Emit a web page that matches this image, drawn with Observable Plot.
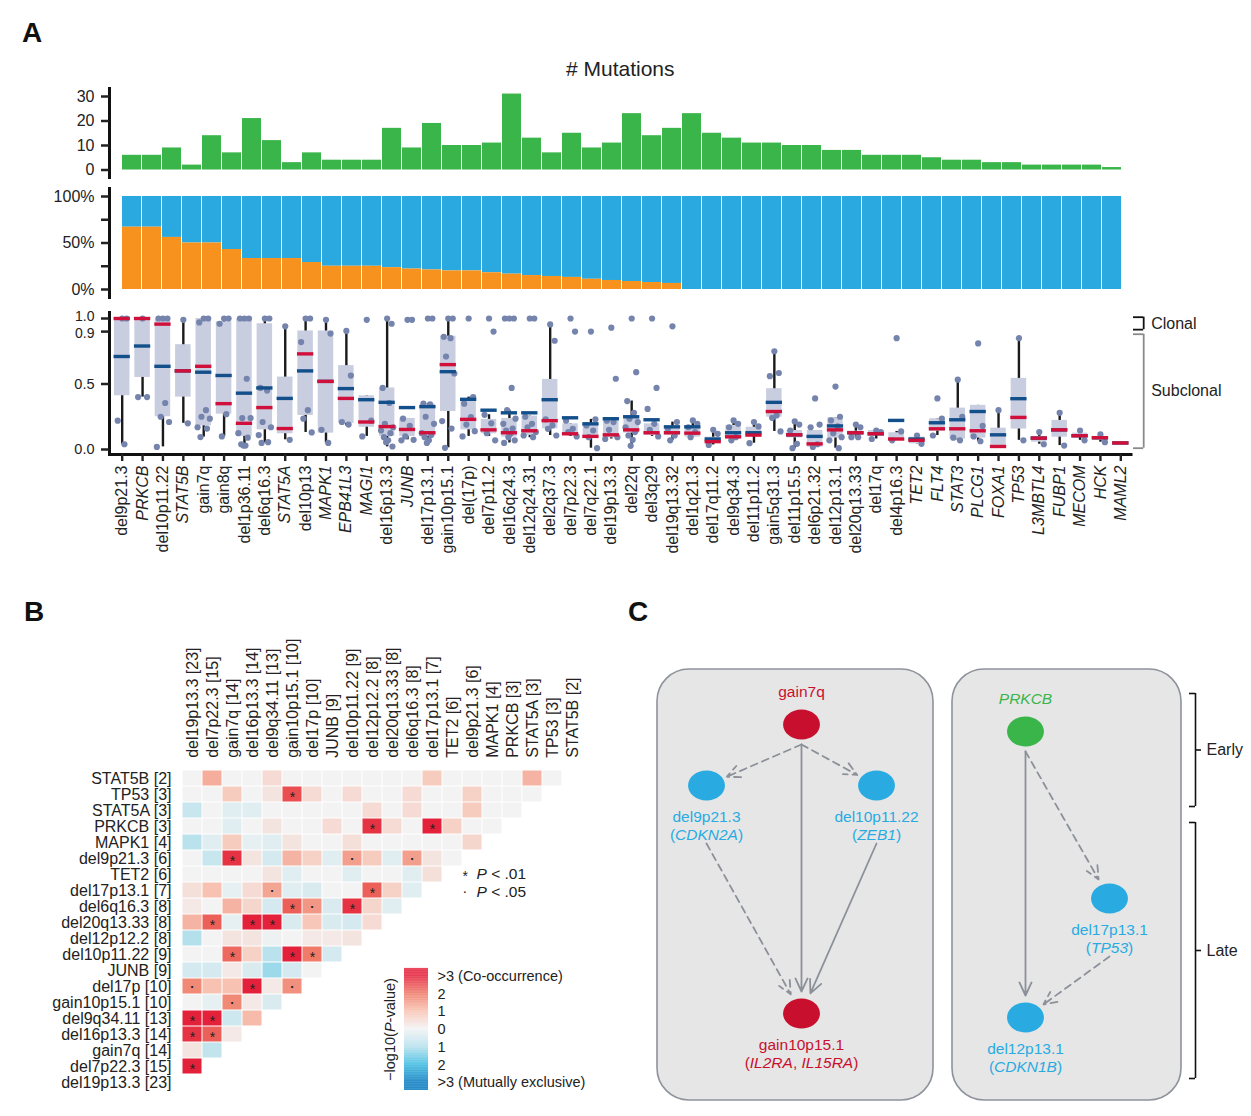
<!DOCTYPE html>
<html><head><meta charset="utf-8">
<script src="https://cdn.jsdelivr.net/npm/d3@7"></script>
<script src="https://cdn.jsdelivr.net/npm/@observablehq/plot@0.6"></script>
<style>
body{margin:0;background:#fff;font-family:'Liberation Sans',Arial,sans-serif}
#fig{position:relative;width:1251px;height:1116px;overflow:hidden;background:#fff}
#fig svg{position:absolute}
.pl{position:absolute;font-weight:bold;font-size:28px;line-height:28px;color:#111}
</style></head>
<body><div id="fig"></div>
<script>
// ---------------- DATA: panel A ----------------
const cats = ["del9p21.3","PRKCB","del10p11.22","STAT5B","gain7q","gain8q","del1p36.11","del6q16.3","STAT5A","del10p13","MAPK1","EPB41L3","MAGI1","del16p13.3","JUNB","del17p13.1","gain10p15.1","del(17p)","del7p11.2","del16q24.3","del12q24.31","del2q37.3","del7p22.3","del7q22.1","del19p13.3","del22q","del3q29","del19q13.32","del1q21.3","del17q11.2","del9q34.3","del11p11.2","gain5q31.3","del11p15.5","del6p21.32","del12p13.1","del20q13.33","del17q","del4p16.3","TET2","FLT4","STAT3","PLCG1","FOXA1","TP53","L3MBTL4","FUBP1","MECOM","HCK","MAML2"];
const nMut = [6,6,9,2,14,7,21,12,3,7, 4,4,4,17,9,19,10,10,11,31, 13,7,15,9,11,23,14,17,23,15, 13,11,11,10,10,8,8,6,6,6, 5,4,4,3,3,2,2,2,2,1];
const clonalFrac = [0.67,0.67,0.56,0.5,0.5,0.43,0.333,0.333,0.333,0.29, 0.25,0.25,0.25,0.235,0.22,0.21,0.2,0.2,0.18,0.165, 0.15,0.14,0.13,0.11,0.097,0.086,0.075,0.065,0,0, 0,0,0,0,0,0,0,0,0,0, 0,0,0,0,0,0,0,0,0,0];
const q1 = [.41,.55,.25,.40,.18,.27,.10,.15,.12,.26, .125,.20,.17,.10,.10,.10,.29,.15,.12,.094, .107,.158,.107,.10,.089,.125,.107,.107,.094,.048, .08,.10,.247,.089,.018,.087,.11,.107,.07,.043, .14,.08,.087,.018,.156,.056,.094,.094,.07,.05];
const q3 = [1,1,.99,.80,1,.975,1,.96,.553,.905, .905,.64,.41,.47,.237,.345,.865,.383,.23,.237, .255,.535,.196,.196,.235,.258,.196,.176,.176,.094, .184,.17,.464,.145,.145,.242,.14,.145,.128,.094, .235,.316,.337,.163,.543,.10,.222,.125,.10,.05];
const med = [1,1,.957,.60,.635,.35,.20,.32,.16,.73, .52,.39,.21,.175,.153,.128,.648,.23,.15,.128, .143,.22,.12,.10,.112,.15,.128,.128,.125,.06, .097,.11,.29,.112,.043,.15,.128,.12,.08,.07, .158,.158,.143,.023,.245,.087,.15,.105,.09,.05];
const mean = [.71,.79,.635,.60,.59,.565,.43,.47,.39,.60, .52,.465,.38,.36,.32,.327,.594,.383,.30,.28, .28,.38,.242,.196,.235,.25,.227,.173,.173,.08, .128,.128,.36,.112,.10,.18,.128,.12,.222,.08, .204,.227,.29,.112,.388,.087,.15,.105,.09,.05];
const wlo = [.04,.40,.02,.20,.095,.10,.03,.05,.074,.13, .05,.18,.10,.02,.074,.05,.013,.10,.10,.05, .09,.107,.10,.01,.08,.028,.10,.07,.094,.035, .07,.048,.138,.01,.018,.01,.094,.08,.07,.043, .107,.07,.063,.018,.07,.04,.03,.07,.056,.05];
const whi = [1,1,1,.99,1,1,1,1,.94,1, .99,.905,.41,1,.237,.35,1,.40,.265,.30, .255,.955,.196,.23,.235,.37,.196,.209,.222,.15, .222,.209,.75,.214,.145,.242,.19,.145,.138,.107, .235,.533,.337,.30,.85,.133,.28,.145,.115,.05];
const pts = [
 [1,1,.22,.04],[1,.40,.40],[1,1,1,.355,.25,.21,.02],[.99,.20],[1,1,.97,.30,.25,.235,.17,.16,.095],
 [1,1,.96,.27,.10],[1,1,1,.54,.24,.24,.125,.09,.04,.03,.03],[1,1,.47,.45,.21,.17,.11,.056,.05],[.94,.074],[1,1,.82,.30,.235,.13],
 [.99,.885,.15,.05],[.905,.564,.21,.19],[.99,.22,.10],[1,.96,.47,.355,.196,.17,.145,.125,.094,.07,.056,.023],[.99,.99,.235,.18,.10,.074,.07],
 [1,1,.35,.345,.25,.196,.125,.11,.094,.07,.05],[1,1,.86,.85,.71,.58,.217,.16,.013],[1,.40,.35,.247,.19,.14,.10],[1,.90,.265,.20,.125,.07],[1,1,1,.47,.30,.235,.196,.16,.145,.12,.094,.07,.05],
 [1,1,.25,.196,.17,.133,.107,.094],[.955,.83,.23,.184,.158,.107],[1,.90,.22,.158,.133,.10],[.90,.23,.184,.145,.094,.01],[.93,.54,.22,.209,.15,.094,.08],
 [1,.59,.37,.28,.235,.209,.17,.133,.107,.074,.028],[1,.47,.31,.196,.15,.10],[.94,.209,.158,.107,.07],[.222,.196,.17,.133,.094],[.15,.12,.035],
 [.222,.196,.17,.094,.07],[.209,.176,.048],[.75,.584,.56,.26,.242,.138],[.214,.19,.145,.043,.01],[.39,.19,.17,.04,.02],
 [.48,.25,.222,.176,.125,.094,.07,.01],[.19,.17,.094,.094],[.145,.133,.08],[.85,.138,.07],[.107,.043],
 [.39,.235,.107],[.533,.25,.09,.07],[.81,.18,.10,.063],[.30],[.85,.07],
 [.133,.04],[.28,.03],[.145,.07],[.115,.056],[]
];
const ccfTicks = [0, 0.5, 0.9, 1.0];
const countTicks = [0, 10, 20, 30];
const pctTicks = [0, 0.25, 0.5, 0.75, 1];
const pctLabels = {0: "0%", 0.5: "50%", 1: "100%"};
const clonality = [{label: "Clonal", lo: 0.915, hi: 1.01, mid: 0.96, color: "#111"},
                   {label: "Subclonal", lo: 0.01, hi: 0.88, mid: 0.445, color: "#8a8a8a"}];

// ---------------- DATA: panel B ----------------
const hmGenes = ["del19p13.3","del7p22.3","gain7q","del16p13.3","del9q34.11","gain10p15.1","del17p","JUNB","del10p11.22","del12p12.2","del20q13.33","del6q16.3","del17p13.1","TET2","del9p21.3","MAPK1","PRKCB","STAT5A","TP53","STAT5B"];
const hmCounts = [23,15,14,14,13,10,10,9,9,8,8,8,7,6,6,4,3,3,3,2];
// rows listed top (STAT5B) to bottom (del19p13.3); values = signed -log10(P); * P<.01, · P<.05
const hmRows = [
 [0,1.3,0,0,0.5,0,0,0,0,0,0,0,0.8,0,0,0,0,1.2,0],
 [0,0,0.8,0,0.3,"2.5*",0.5,0,0.5,0,0,0.5,0,0,0.7,0,0,0],
 [-0.7,0,-0.3,-0.3,0,0,0,0,0,0.5,0,0.5,0,0,0.8,0,0],
 [0,0,-0.3,0,0.3,0,0,0.5,0,"2.8*",0.5,0,"3*",0.7,0,0],
 [-0.9,-0.3,0.8,-0.2,-0.3,0.3,0,0,0.4,0,0,0,0,0,0.6],
 [0,-0.7,"2.8*",0.3,-0.5,1.2,0.7,-0.3,"1.5·",0.8,-0.3,"1.5·",0.3,0],
 [0,0,0,0,0.3,-0.3,0,0,-0.3,0,0,-0.3,0.4],
 [0.4,1.0,-0.2,0.5,"1.4·",-0.3,-0.4,0,0,"2.3*",0.7,-0.3],
 [0.2,0,1.2,0.6,-0.5,"2.3*","1.6·",-0.4,"2.8*",0.6,-0.3],
 [1.2,"2.3*",-0.2,"3*","3*",-0.4,0.9,-0.4,-0.5,0.5],
 [-1.0,0,0.3,0.3,-0.1,0,0.2,0.2,0.3],
 [0,0,"2.2*",0.7,-0.9,"3*","2.0*",-0.5],
 [-0.5,-0.5,0.2,-0.4,-1.2,-0.5,0],
 ["1.8·",1.0,1.0,"3*",0.2,"1.7·"],
 [0,-0.2,"1.8·",0.2,-0.4],
 ["3*","3*",-0.6,1.1],
 ["2.8*","2.3*",0.2],
 [0.3,-0.8],
 ["3*"],
 []
];
const legendTicks = [3,2,1,0,-1,-2,-3];
const legendLabels = [">3 (Co-occurrence)","2","1","0","1","2",">3 (Mutually exclusive)"];
const sigLegend = [{sym: "*", label: "_P_ < .01"}, {sym: "·", label: "_P_ < .05"}];

// ---------------- DATA: panel C (node-link layout units) ----------------
const RED = "#c8102e", BLUE = "#29abe2", GREEN = "#3ab54a";
const nodes = [
 {id: "gain7q", label: "gain7q", sub: "", x: 161, y: 64, color: RED, above: true},
 {id: "del9p21.3", label: "del9p21.3", sub: "(_CDKN2A_)", x: 66, y: 125, color: BLUE},
 {id: "del10p11.22", label: "del10p11.22", sub: "(_ZEB1_)", x: 236, y: 125, color: BLUE},
 {id: "gain10p15.1", label: "gain10p15.1", sub: "(_IL2RA_, _IL15RA_)", x: 161, y: 353, color: RED},
 {id: "PRKCB", label: "_PRKCB_", sub: "", x: 385, y: 71, color: GREEN, above: true},
 {id: "del17p13.1", label: "del17p13.1", sub: "(_TP53_)", x: 469, y: 238, color: BLUE},
 {id: "del12p13.1", label: "del12p13.1", sub: "(_CDKN1B_)", x: 385, y: 357, color: BLUE}
];
const edges = [
 {from: "gain7q", to: "del9p21.3", dashed: true},
 {from: "gain7q", to: "del10p11.22", dashed: true},
 {from: "gain7q", to: "gain10p15.1", dashed: false},
 {from: "del9p21.3", to: "gain10p15.1", dashed: true},
 {from: "del10p11.22", to: "gain10p15.1", dashed: false},
 {from: "PRKCB", to: "del12p13.1", dashed: false},
 {from: "PRKCB", to: "del17p13.1", dashed: true},
 {from: "del17p13.1", to: "del12p13.1", dashed: true}
];
const groupsC = [{x1: 17, x2: 293, y1: 9, y2: 440}, {x1: 312, x2: 541, y1: 9, y2: 440}];
const phases = [{label: "Early", y1: 33, y2: 146}, {label: "Late", y1: 162, y2: 418}];

// ---------------- helpers ----------------
const fig = document.getElementById("fig");
const FONT = "'Liberation Sans', Arial, Helvetica, sans-serif";
const style = {fontFamily: FONT, fontSize: "15px", color: "#222", background: "none", overflow: "visible"};
function place(el, left, top) { el.style.left = left + "px"; el.style.top = top + "px"; fig.appendChild(el); return el; }
function italicize(root) {
  root.querySelectorAll("text").forEach(t => {
    const targets = t.querySelector("tspan") ? [...t.querySelectorAll("tspan")] : [t];
    targets.forEach(el => {
      const s = el.textContent;
      if (!s.includes("_")) return;
      el.textContent = "";
      s.split("_").forEach((part, i) => {
        if (!part) return;
        const ts = document.createElementNS("http://www.w3.org/2000/svg", "tspan");
        if (i % 2) ts.setAttribute("font-style", "italic");
        ts.textContent = part;
        el.appendChild(ts);
      });
    });
  });
}
function letter(ch, x, y) { const d = document.createElement("div"); d.className = "pl"; d.textContent = ch; d.style.left = x + "px"; d.style.top = y + "px"; fig.appendChild(d); }

const W = 1251;
const idx = d3.range(cats.length);
const xBand = {domain: cats, range: [111.5, 1130.5], paddingInner: 0.07, paddingOuter: 0, axis: null};

// ---------------- A1: # mutations ----------------
const pA1 = Plot.plot({
  width: W, height: 130, marginLeft: 109, marginRight: W - 1130.5, marginTop: 38, marginBottom: 3,
  style,
  x: {...xBand},
  y: {domain: [0, 30], range: [119.5, 46], axis: null},
  marks: [
    Plot.barY(idx, {x: i => cats[i], y: i => nMut[i], fill: GREEN}),
    Plot.frame({anchor: "left", stroke: "#111", strokeWidth: 3}),
    Plot.axisY({ticks: countTicks, tickSize: 8, tickPadding: 7, strokeWidth: 2.5, fontSize: 16, color: "#222", label: null}),
    Plot.text(["# Mutations"], {frameAnchor: "top", lineAnchor: "middle", dy: -19, fontSize: 21, fill: "#222"})
  ]
});
place(pA1, 0, 50);

// ---------------- A2: clonal / subclonal fraction ----------------
const pA2 = Plot.plot({
  width: W, height: 120, marginLeft: 109, marginRight: W - 1130.5, marginTop: 8, marginBottom: 3,
  style,
  x: {...xBand},
  y: {domain: [0, 1], range: [109, 16], axis: null},
  marks: [
    Plot.barY(idx, {x: i => cats[i], y1: i => clonalFrac[i], y2: 1, fill: "#29a9e0"}),
    Plot.barY(idx, {x: i => cats[i], y1: 0, y2: i => clonalFrac[i], fill: "#f7921e"}),
    Plot.frame({anchor: "left", stroke: "#111", strokeWidth: 3}),
    Plot.axisY({ticks: pctTicks, tickFormat: d => pctLabels[d] ?? "", tickSize: 8, tickPadding: 7, strokeWidth: 2.5, fontSize: 16, color: "#222", label: null})
  ]
});
place(pA2, 0, 180);

// ---------------- A3: cancer cell fraction boxplots ----------------
const jit = [0, 0.22, -0.22, 0.11, -0.11, 0.3, -0.3, 0.16, -0.16, 0.05, -0.05, 0.26, -0.26];
const ptData = idx.flatMap(i => pts[i].map((v, j) => ({x: i + jit[j % jit.length], y: v})));
const pA3 = Plot.plot({
  width: W, height: 270, marginLeft: 109, marginRight: W - 1130.5, marginTop: 12, marginBottom: 116,
  style,
  x: {domain: [-0.5, 49.5], range: [111.5, 1130.5], axis: null},
  y: {domain: [0, 1], range: [149, 18], axis: null},
  marks: [
    Plot.ruleX(idx, {x: i => i, y1: i => wlo[i], y2: i => whi[i], stroke: "#1a1a1a", strokeWidth: 2.4}),
    Plot.rect(idx, {x1: i => i - 0.38, x2: i => i + 0.38, y1: i => q1[i], y2: i => q3[i], fill: "#c9cde0"}),
    Plot.dot(ptData, {x: "x", y: "y", r: 3.1, fill: "#7584ad", stroke: null}),
    Plot.ruleY(idx, {y: i => mean[i], x1: i => i - 0.4, x2: i => i + 0.4, stroke: "#134f8a", strokeWidth: 3.4}),
    Plot.ruleY(idx, {y: i => med[i], x1: i => i - 0.4, x2: i => i + 0.4, stroke: "#d0103a", strokeWidth: 3.4}),
    Plot.frame({anchor: "left", stroke: "#111", strokeWidth: 3}),
    Plot.frame({anchor: "bottom", stroke: "#111", strokeWidth: 3}),
    Plot.axisY({ticks: ccfTicks, tickFormat: () => "", tickSize: 8, strokeWidth: 2.5, color: "#222", label: null}),
    Plot.axisY({ticks: ccfTicks.filter(t => t < 0.9), tickFormat: d3.format(".1f"), tickSize: 0, tickPadding: 15, fontSize: 14.5, color: "#222", label: null}),
    Plot.axisY({ticks: ccfTicks.filter(t => t === 0.9), tickFormat: d3.format(".1f"), tickSize: 0, tickPadding: 15, dy: 1.5, fontSize: 14, color: "#222", label: null}),
    Plot.axisY({ticks: ccfTicks.filter(t => t === 1), tickFormat: d3.format(".1f"), tickSize: 0, tickPadding: 15, dy: -2, fontSize: 14, color: "#222", label: null}),
    Plot.axisX({ticks: idx, tickFormat: i => cats[i], tickRotate: -90, tickSize: 7, tickPadding: 4, strokeWidth: 2.4, fontSize: 16, color: "#222", label: null}),
    // clonal / subclonal brackets
    Plot.ruleX(clonality, {x: 50, y1: "lo", y2: "hi", dx: 2.5, stroke: "color", strokeWidth: 1.8}),
    Plot.ruleY(clonality, {y: "lo", x1: 49.5, x2: 50, dx: 2.5, stroke: "color", strokeWidth: 1.8}),
    Plot.ruleY(clonality, {y: "hi", x1: 49.5, x2: 50, dx: 2.5, stroke: "color", strokeWidth: 1.8}),
    Plot.text(clonality, {x: 50, y: "mid", text: "label", dx: 10, textAnchor: "start", fontSize: 16, fill: "#222"})
  ]
});
pA3.querySelectorAll("text").forEach(t => { if (/^[A-Z][A-Z0-9]+$/.test(t.textContent)) t.setAttribute("font-style", "italic"); });
place(pA3, 0, 300);

// ---------------- B: co-occurrence heatmap ----------------
const colLabels = hmGenes.map((g, i) => `${g} [${hmCounts[i]}]`);
const rowLabels = [...colLabels].reverse();
const cells = [];
hmRows.forEach((row, r) => row.forEach((v, c) => cells.push({row: rowLabels[r], col: colLabels[c], v: parseFloat(v), sig: String(v).replace(/[-0-9.]/g, "")})));
const colorOpts = {type: "linear", domain: [-3, -2, -1, 0, 1, 2, 3], range: ["#0a7cc1", "#3dbbe0", "#b4e0ec", "#f3f3f3", "#f7c2b2", "#ef7b68", "#e4213a"], clamp: true};
const pB = Plot.plot({
  width: 600, height: 500, marginLeft: 180, marginRight: 16.6, marginTop: 165.3, marginBottom: 4.4,
  style: {...style, fontSize: "16px"},
  x: {domain: colLabels, padding: 0, axis: "top", tickRotate: -90, tickSize: 0, tickPadding: 8, label: null},
  y: {domain: rowLabels, padding: 0, tickSize: 0, tickPadding: 9, label: null},
  color: colorOpts,
  marks: [
    Plot.cell(cells, {x: "col", y: "row", fill: "v", inset: 0.5}),
    Plot.text(cells.filter(d => d.sig === "*"), {x: "col", y: "row", text: "sig", dy: 3, fontSize: 14, fill: "#222", lineAnchor: "middle"}),
    Plot.text(cells.filter(d => d.sig === "·"), {x: "col", y: "row", text: "sig", fontSize: 13, fill: "#222", fontWeight: "bold", lineAnchor: "middle"}),
    ...sigLegend.map((s, i) => Plot.text([s], {frameAnchor: "top-left", lineAnchor: "middle", text: "sym", dx: 282, dy: 108 + 18 * i + (s.sym === "*" ? 3 : 0), fontSize: 14, fill: "#222"})),
    ...sigLegend.map((s, i) => Plot.text([s], {frameAnchor: "top-left", lineAnchor: "middle", text: "label", dx: 296, dy: 108 + 18 * i, textAnchor: "start", fontSize: 15.5, fill: "#222"}))
  ]
});
place(pB, 0, 600);

// colour legend
const stops = d3.range(-3.44, 3.44, 0.04);
const pL = Plot.plot({
  width: 600, height: 140, marginLeft: 404, marginRight: 172, marginTop: 8, marginBottom: 10,
  style,
  x: {domain: [0, 1], axis: null},
  y: {domain: [-3.44, 3.44], axis: null},
  color: colorOpts,
  marks: [
    Plot.rect(stops, {x1: 0, x2: 1, y1: d => d, y2: d => d + 0.045, fill: d => d}),
    Plot.axisY({anchor: "right", ticks: legendTicks, tickFormat: d => legendLabels[legendTicks.indexOf(d)], tickSize: 0, tickPadding: 9, fontSize: 14.5, color: "#222", label: null}),
    Plot.text(["−log10(_P_-value)"], {frameAnchor: "left", textAnchor: "middle", lineAnchor: "middle", rotate: -90, dx: -14, fontSize: 14.5, fill: "#222"})
  ]
});
place(pL, 0, 960);

// ---------------- C: ordering networks ----------------
const nodeById = new Map(nodes.map(n => [n.id, n]));
const edgeData = edges.map(e => {
  const a = nodeById.get(e.from), b = nodeById.get(e.to);
  const sx = a.x, sy = a.y + (a.sub ? 58 : 20);
  const dx = b.x - sx, dy = b.y - sy, L = Math.hypot(dx, dy);
  return {...e, x1: sx, y1: sy, x2: b.x - dx / L * 22, y2: b.y - dy / L * 22};
});
const ellipse = {draw(ctx, size) {
  const r = Math.sqrt(size / Math.PI), rx = r * 1.23, ry = r, k = 0.5523;
  ctx.moveTo(rx, 0);
  ctx.bezierCurveTo(rx, k * ry, k * rx, ry, 0, ry);
  ctx.bezierCurveTo(-k * rx, ry, -rx, k * ry, -rx, 0);
  ctx.bezierCurveTo(-rx, -k * ry, -k * rx, -ry, 0, -ry);
  ctx.bezierCurveTo(k * rx, -ry, rx, -k * ry, rx, 0);
  ctx.closePath();
}};
const pC = Plot.plot({
  width: 611, height: 450, margin: 0,
  style,
  x: {domain: [0, 611], range: [0, 611], axis: null},
  y: {domain: [0, 450], range: [0, 450], axis: null},
  color: {type: "identity"},
  marks: [
    Plot.rect(groupsC, {x1: "x1", x2: "x2", y1: "y1", y2: "y2", fill: "#e6e6e6", stroke: "#8e939b", strokeWidth: 1.6}),
    Plot.arrow(edgeData.filter(e => !e.dashed), {x1: "x1", y1: "y1", x2: "x2", y2: "y2", stroke: "#8c9199", strokeWidth: 1.8, headLength: 12, headAngle: 50}),
    Plot.arrow(edgeData.filter(e => e.dashed), {x1: "x1", y1: "y1", x2: "x2", y2: "y2", stroke: "#8c9199", strokeWidth: 1.8, headLength: 12, headAngle: 50, strokeDasharray: "7,5"}),
    Plot.dot(nodes, {x: "x", y: "y", r: 15, symbol: ellipse, fill: "color", stroke: null}),
    Plot.text(nodes.filter(n => n.above), {x: "x", y: "y", text: "label", dy: -32, fill: "color", fontSize: 15.5}),
    Plot.text(nodes.filter(n => !n.above), {x: "x", y: "y", text: "label", dy: 32, fill: "color", fontSize: 15.5}),
    Plot.text(nodes.filter(n => !n.above), {x: "x", y: "y", text: "sub", dy: 50, fill: "color", fontSize: 15.5}),
    Plot.ruleX(phases, {x: 555, y1: "y1", y2: "y2", stroke: "#111", strokeWidth: 1.6}),
    Plot.ruleY(phases, {y: "y1", x1: 549, x2: 555, stroke: "#111", strokeWidth: 1.6}),
    Plot.ruleY(phases, {y: "y2", x1: 549, x2: 555, stroke: "#111", strokeWidth: 1.6}),
    Plot.ruleY(phases, {y: d => (d.y1 + d.y2) / 2, x1: 555, x2: 561, stroke: "#111", strokeWidth: 1.6}),
    Plot.text(phases, {x: 566, y: d => (d.y1 + d.y2) / 2, text: "label", textAnchor: "start", fontSize: 16, fill: "#222"})
  ]
});
pC.querySelectorAll('g[aria-label="rect"] rect').forEach(r => { r.setAttribute("rx", 32); r.setAttribute("ry", 32); });
place(pC, 640, 660);

italicize(fig);
letter("A", 22, 19);
letter("B", 24, 598);
letter("C", 628, 598);
</script></body></html>
